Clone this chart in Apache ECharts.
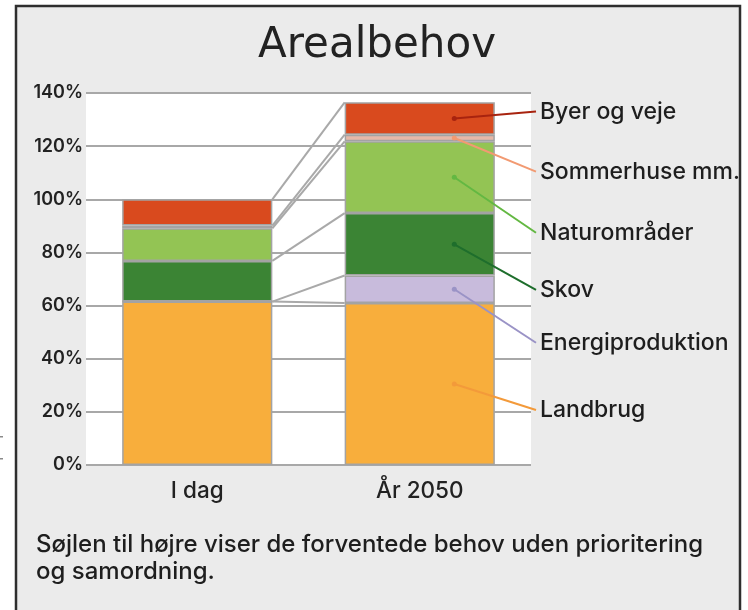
<!DOCTYPE html>
<html><head><meta charset="utf-8">
<script src="https://cdn.jsdelivr.net/npm/echarts@6/dist/echarts.min.js"></script>
<style>html,body{margin:0;padding:0;background:#fff}#c{width:748px;height:610px}</style>
</head><body><div id="c"></div>
<script>
// ---- data ----
const categories = ['I dag', 'År 2050'];
const seriesNames = ['Landbrug', 'Energiproduktion', 'Skov', 'Naturområder', 'Sommerhuse mm.', 'Byer og veje'];
const landbrug = [61.5, 61.0];
const energiproduktion = [0, 10.3];
const skov = [15.3, 23.5];
const naturomraader = [12.3, 27.0];
const sommerhuse = [1.0, 2.5];
const byerOgVeje = [9.9, 12.2];
const yTicks = [0, 20, 40, 60, 80, 100, 120, 140];
const titleText = 'Arealbehov';
const footnoteLines = ['Søjlen til højre viser de forventede behov uden prioritering', 'og samordning.'];

// ---- style / layout ----
const fills = ['#f8ae3c', '#c8bbdc', '#3b8434', '#93c454', '#e6b8a8', '#d94a1e'];
const leaderColors = ['#f39a3a', '#9a93c6', '#1e6e2c', '#63b842', '#f29a72', '#a8230f'];
const labelAnchorPct = [20.7, 46.0, 65.9, 87.4, 110.4, 133.0];
const FONT = 'Inter, "Noto Sans", sans-serif';
const barFrac = 0.675;

const values = [landbrug, energiproduktion, skov, naturomraader, sommerhuse, byerOgVeje];
const cumTop = values.map((_, i) => [0, 1].map(c => values.slice(0, i + 1).reduce((s, a) => s + a[c], 0)));

const chart = echarts.init(document.getElementById('c'), null, {renderer: 'canvas'});

const barSeries = seriesNames.map((n, i) => ({
  name: n, type: 'bar', stack: 'total', barWidth: (barFrac * 100) + '%',
  data: values[i], z: 2,
  itemStyle: {color: fills[i], borderColor: '#a3a3a3', borderWidth: 1.5}
}));

const connector = {
  type: 'custom', coordinateSystem: 'cartesian2d', z: 1,
  encode: {x: 0, y: 1},
  data: seriesNames.map((n, i) => [0, cumTop[i][0], cumTop[i][1], i]),
  renderItem(params, api) {
    const bw = api.size([1, 0])[0] * barFrac;
    const p0 = api.coord([0, api.value(1)]);
    const p1 = api.coord([1, api.value(2)]);
    return {type: 'line', shape: {x1: p0[0] + bw / 2, y1: p0[1], x2: p1[0] - bw / 2, y2: p1[1]},
      style: {stroke: '#a9a9a9', lineWidth: 2}};
  }
};

const leader = {
  type: 'custom', coordinateSystem: 'cartesian2d', z: 5, clip: false,
  encode: {x: 0, y: 1},
  data: seriesNames.map((n, i) => [1, cumTop[i][1] - values[i][1] / 2, labelAnchorPct[i], i]),
  renderItem(params, api) {
    const i = api.value(3);
    const bw = api.size([1, 0])[0] * barFrac;
    const s = api.coord([1, api.value(1)]);
    const sx = s[0] + bw * 0.23;
    const ey = api.coord([1, api.value(2)])[1];
    const ex = params.coordSys.x + params.coordSys.width + 5;
    const col = leaderColors[i];
    return {type: 'group', children: [
      {type: 'line', shape: {x1: sx, y1: s[1], x2: ex, y2: ey}, style: {stroke: col, lineWidth: 2}},
      {type: 'circle', shape: {cx: sx, cy: s[1], r: 2.5}, style: {fill: col}},
      {type: 'text', style: {text: seriesNames[i], x: ex + 4, y: ey, fill: '#1e1e1e',
        fontSize: 23, fontWeight: 500, fontFamily: FONT, verticalAlign: 'middle', align: 'left'}}
    ]};
  }
};

chart.setOption({
  animation: false,
  backgroundColor: '#ffffff',
  title: {text: titleText, left: 372, textAlign: 'center', top: 20,
    textStyle: {fontSize: 42, fontWeight: 400, color: '#222', fontFamily: '"DejaVu Sans", sans-serif'}},
  grid: {left: 86, right: 217, top: 93, bottom: 145, show: true, backgroundColor: '#ffffff', borderWidth: 0},
  xAxis: {type: 'category', data: categories,
    axisLine: {show: false}, axisTick: {show: false},
    axisLabel: {fontSize: 22.5, fontWeight: 500, color: '#222', fontFamily: FONT, margin: 15}},
  yAxis: {type: 'value', min: yTicks[0], max: yTicks[yTicks.length - 1], interval: yTicks[1] - yTicks[0],
    axisLine: {show: false}, axisTick: {show: false},
    axisLabel: {formatter: '{value}%', fontSize: 18, fontWeight: 600, color: '#222', fontFamily: FONT, margin: 3},
    splitLine: {lineStyle: {color: '#a8a8a8', width: 2}}},
  graphic: [
    {type: 'rect', z: -10, shape: {x: 16, y: 6, width: 724, height: 620},
      style: {fill: '#ebebeb', stroke: '#2e2e2e', lineWidth: 2.5}},
    {type: 'rect', z: -10, shape: {x: 0, y: 436, width: 3, height: 1.5}, style: {fill: '#8a8a8a'}},
    {type: 'rect', z: -10, shape: {x: 0, y: 458, width: 3, height: 1.5}, style: {fill: '#8a8a8a'}},
    {type: 'text', z: 10, style: {text: footnoteLines[0], x: 36, y: 545, fill: '#1e1e1e',
      fontSize: 24, fontWeight: 500, fontFamily: FONT, verticalAlign: 'middle'}},
    {type: 'text', z: 10, style: {text: footnoteLines[1], x: 36, y: 572, fill: '#1e1e1e',
      fontSize: 24, fontWeight: 500, fontFamily: FONT, verticalAlign: 'middle'}}
  ],
  series: [connector, ...barSeries, leader]
});
</script></body></html>
